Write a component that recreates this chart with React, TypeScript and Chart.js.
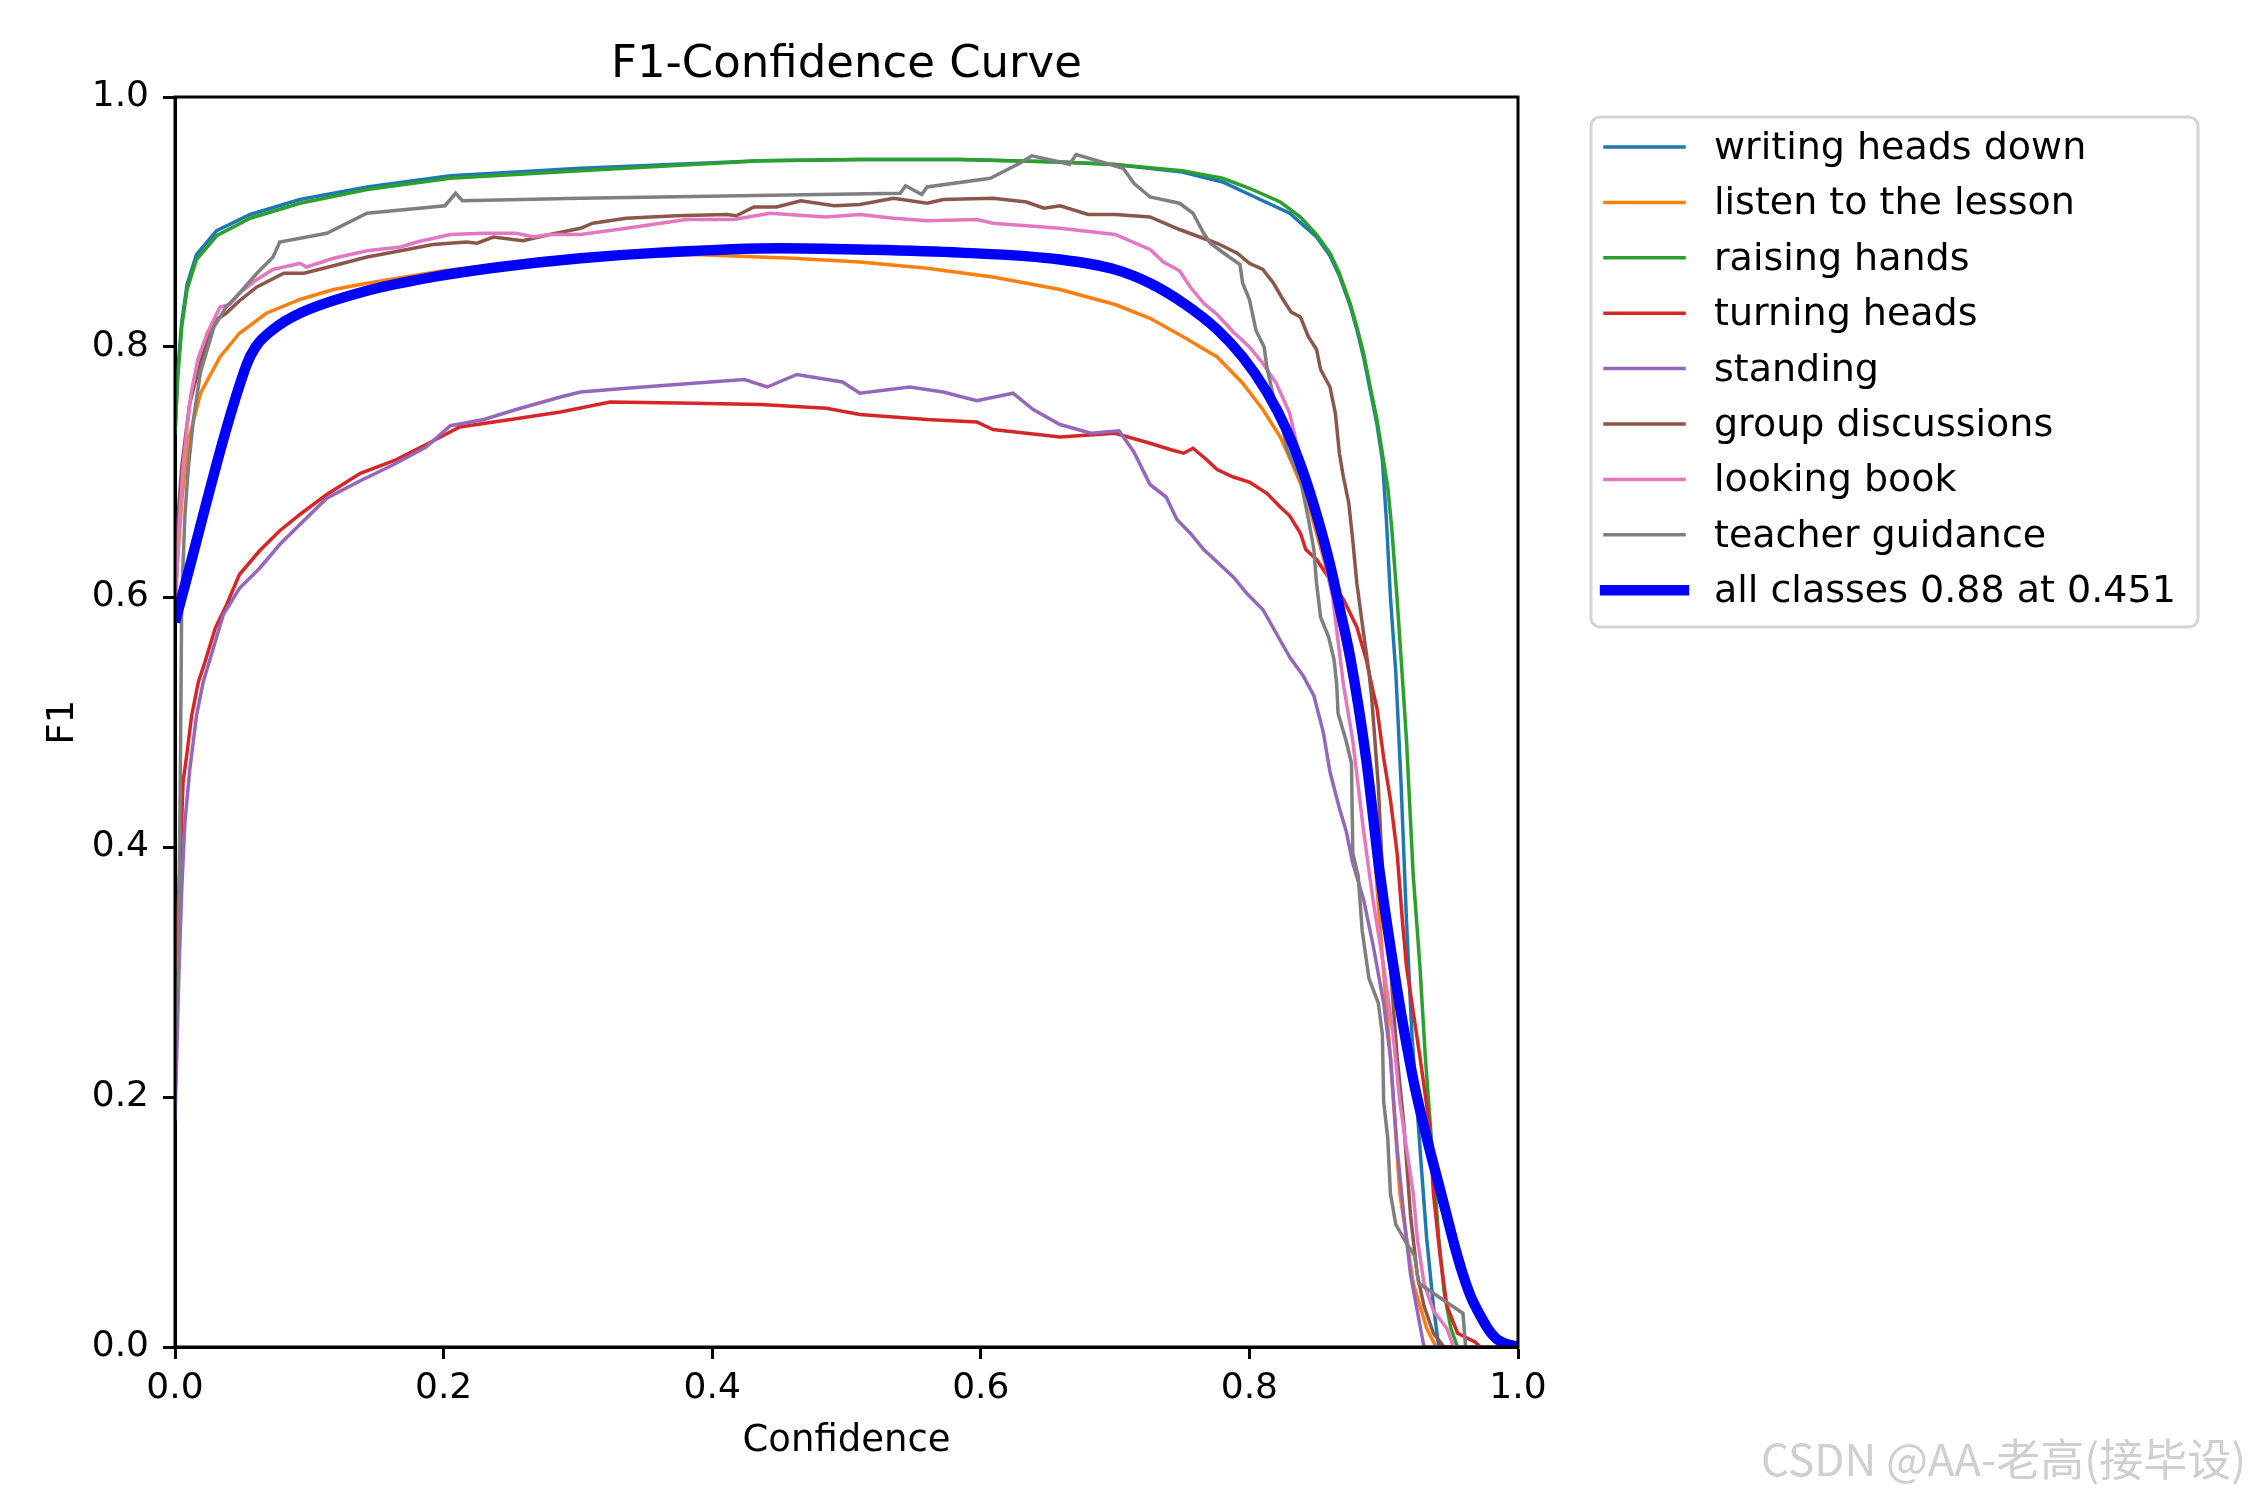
import { useEffect, useRef } from "react";
import { Chart, registerables, Plugin } from "chart.js";

Chart.register(...registerables);

type Pt = [number, number];

// [confidence, F1] pairs
const writingHeadsDown: Pt[] = [
  [0, 0.73], [0.002, 0.78], [0.005, 0.82], [0.009, 0.85], [0.016, 0.874], [0.031, 0.893],
  [0.056, 0.906], [0.093, 0.918], [0.143, 0.928], [0.205, 0.937], [0.302, 0.943], [0.436, 0.949],
  [0.51, 0.95], [0.585, 0.95], [0.659, 0.948], [0.7, 0.946], [0.75, 0.94], [0.78, 0.932],
  [0.8, 0.922], [0.83, 0.907], [0.85, 0.888], [0.86, 0.873], [0.867, 0.857], [0.875, 0.833],
  [0.88, 0.814], [0.885, 0.792], [0.89, 0.765], [0.895, 0.738], [0.899, 0.71], [0.902, 0.662],
  [0.905, 0.6], [0.909, 0.54], [0.913, 0.449], [0.917, 0.34], [0.921, 0.25], [0.927, 0.159],
  [0.932, 0.087], [0.937, 0.033], [0.941, 0], [1, 0],
];

const listenToTheLesson: Pt[] = [
  [0, 0.6], [0.005, 0.677], [0.01, 0.725], [0.019, 0.763], [0.0335, 0.792], [0.048, 0.811],
  [0.068, 0.827], [0.093, 0.838], [0.118, 0.846], [0.143, 0.851], [0.2, 0.861], [0.25, 0.867],
  [0.3, 0.871], [0.386, 0.874], [0.46, 0.871], [0.51, 0.868], [0.56, 0.863], [0.609, 0.856],
  [0.659, 0.846], [0.7, 0.834], [0.726, 0.823], [0.751, 0.808], [0.776, 0.792], [0.795, 0.771],
  [0.81, 0.75], [0.823, 0.728], [0.833, 0.704], [0.843, 0.678], [0.85, 0.651], [0.857, 0.624],
  [0.868, 0.575], [0.88, 0.51], [0.89, 0.438], [0.897, 0.34], [0.905, 0.232], [0.912, 0.123],
  [0.922, 0.051], [0.932, 0.015], [0.939, 0], [1, 0],
];

const raisingHands: Pt[] = [
  [0, 0.731], [0.002, 0.775], [0.005, 0.816], [0.009, 0.846], [0.016, 0.87], [0.031, 0.889],
  [0.056, 0.903], [0.093, 0.915], [0.143, 0.926], [0.205, 0.935], [0.302, 0.941], [0.436, 0.949],
  [0.51, 0.95], [0.585, 0.95], [0.659, 0.948], [0.7, 0.946], [0.75, 0.941], [0.78, 0.935],
  [0.8, 0.927], [0.823, 0.916], [0.838, 0.904], [0.85, 0.89], [0.86, 0.875], [0.867, 0.859],
  [0.875, 0.835], [0.88, 0.816], [0.885, 0.795], [0.89, 0.768], [0.895, 0.742], [0.899, 0.715],
  [0.903, 0.688], [0.906, 0.655], [0.91, 0.598], [0.915, 0.518], [0.917, 0.485], [0.922, 0.377],
  [0.927, 0.304], [0.931, 0.232], [0.936, 0.159], [0.941, 0.087], [0.945, 0.044], [0.95, 0.015],
  [0.955, 0], [1, 0],
];

const turningHeads: Pt[] = [
  [0, 0.3], [0.004, 0.393], [0.006, 0.452], [0.0087, 0.473], [0.0124, 0.505], [0.0174, 0.532],
  [0.0223, 0.548], [0.03, 0.575], [0.0385, 0.594], [0.048, 0.618], [0.063, 0.637], [0.078, 0.653],
  [0.093, 0.666], [0.113, 0.682], [0.138, 0.699], [0.163, 0.709], [0.187, 0.722], [0.212, 0.736],
  [0.25, 0.742], [0.287, 0.748], [0.324, 0.756], [0.386, 0.755], [0.436, 0.754], [0.485, 0.751],
  [0.51, 0.746], [0.56, 0.742], [0.597, 0.74], [0.609, 0.734], [0.659, 0.728], [0.7, 0.731],
  [0.726, 0.723], [0.741, 0.718], [0.751, 0.715], [0.758, 0.719], [0.768, 0.71], [0.776, 0.702],
  [0.788, 0.696], [0.8, 0.692], [0.813, 0.683], [0.823, 0.672], [0.83, 0.665], [0.838, 0.651],
  [0.842, 0.638], [0.85, 0.63], [0.86, 0.614], [0.87, 0.598], [0.88, 0.576], [0.887, 0.55],
  [0.892, 0.525], [0.895, 0.511], [0.9, 0.471], [0.905, 0.438], [0.91, 0.395], [0.914, 0.34],
  [0.917, 0.304], [0.922, 0.268], [0.927, 0.232], [0.934, 0.178], [0.937, 0.123], [0.942, 0.073],
  [0.947, 0.033], [0.955, 0.011], [0.968, 0.004], [0.972, 0], [1, 0],
];

const standing: Pt[] = [
  [0, 0.181], [0.003, 0.302], [0.005, 0.366], [0.0074, 0.42], [0.011, 0.462], [0.016, 0.505],
  [0.021, 0.532], [0.0285, 0.559], [0.036, 0.586], [0.048, 0.607], [0.063, 0.623], [0.078, 0.642],
  [0.093, 0.658], [0.113, 0.679], [0.138, 0.693], [0.163, 0.706], [0.187, 0.72], [0.205, 0.737],
  [0.23, 0.742], [0.254, 0.75], [0.287, 0.76], [0.302, 0.764], [0.336, 0.767], [0.386, 0.771],
  [0.424, 0.774], [0.441, 0.768], [0.463, 0.778], [0.497, 0.772], [0.51, 0.763], [0.547, 0.768],
  [0.572, 0.764], [0.597, 0.757], [0.624, 0.763], [0.639, 0.75], [0.659, 0.738], [0.682, 0.731],
  [0.703, 0.733], [0.714, 0.716], [0.726, 0.69], [0.738, 0.68], [0.746, 0.662], [0.756, 0.651],
  [0.766, 0.638], [0.776, 0.628], [0.788, 0.616], [0.798, 0.603], [0.81, 0.59], [0.82, 0.571],
  [0.83, 0.552], [0.84, 0.537], [0.848, 0.521], [0.855, 0.492], [0.86, 0.46], [0.867, 0.431],
  [0.872, 0.413], [0.877, 0.387], [0.885, 0.358], [0.892, 0.322], [0.9, 0.275], [0.905, 0.232],
  [0.91, 0.159], [0.915, 0.105], [0.92, 0.058], [0.925, 0.029], [0.93, 0], [1, 0],
];

const groupDiscussions: Pt[] = [
  [0, 0.62], [0.002, 0.66], [0.005, 0.704], [0.0087, 0.736], [0.011, 0.755], [0.016, 0.776],
  [0.024, 0.806], [0.031, 0.822], [0.038, 0.827], [0.048, 0.837], [0.061, 0.848], [0.081, 0.859],
  [0.096, 0.859], [0.118, 0.865], [0.143, 0.872], [0.168, 0.877], [0.192, 0.882], [0.217, 0.884],
  [0.225, 0.883], [0.237, 0.888], [0.259, 0.885], [0.279, 0.89], [0.302, 0.895], [0.311, 0.899],
  [0.336, 0.903], [0.373, 0.905], [0.411, 0.906], [0.418, 0.905], [0.431, 0.912], [0.448, 0.912],
  [0.466, 0.917], [0.491, 0.913], [0.51, 0.914], [0.535, 0.919], [0.56, 0.915], [0.572, 0.918],
  [0.609, 0.919], [0.634, 0.916], [0.647, 0.911], [0.659, 0.913], [0.68, 0.906], [0.7, 0.906],
  [0.726, 0.904], [0.748, 0.894], [0.763, 0.888], [0.776, 0.883], [0.791, 0.875], [0.8, 0.867],
  [0.81, 0.862], [0.818, 0.851], [0.825, 0.838], [0.831, 0.828], [0.838, 0.824], [0.844, 0.808],
  [0.85, 0.798], [0.853, 0.782], [0.86, 0.768], [0.864, 0.747], [0.867, 0.715], [0.87, 0.696],
  [0.874, 0.675], [0.877, 0.645], [0.88, 0.611], [0.885, 0.571], [0.889, 0.54], [0.891, 0.52],
  [0.896, 0.449], [0.9, 0.358], [0.905, 0.304], [0.91, 0.232], [0.915, 0.178], [0.92, 0.105],
  [0.925, 0.058], [0.93, 0.033], [0.937, 0.011], [0.945, 0], [1, 0],
];

const lookingBook: Pt[] = [
  [0, 0.58], [0.003, 0.656], [0.006, 0.704], [0.009, 0.736], [0.012, 0.763], [0.017, 0.79],
  [0.024, 0.811], [0.0335, 0.832], [0.041, 0.834], [0.048, 0.843], [0.061, 0.854], [0.073, 0.862],
  [0.093, 0.867], [0.098, 0.864], [0.118, 0.871], [0.143, 0.877], [0.168, 0.88], [0.18, 0.884],
  [0.205, 0.89], [0.23, 0.891], [0.254, 0.891], [0.267, 0.888], [0.279, 0.89], [0.302, 0.89],
  [0.336, 0.895], [0.381, 0.902], [0.416, 0.902], [0.443, 0.907], [0.485, 0.904], [0.51, 0.906],
  [0.535, 0.903], [0.56, 0.901], [0.597, 0.902], [0.609, 0.899], [0.634, 0.897], [0.659, 0.895],
  [0.7, 0.89], [0.726, 0.878], [0.736, 0.868], [0.748, 0.861], [0.756, 0.848], [0.766, 0.835],
  [0.776, 0.826], [0.788, 0.812], [0.8, 0.8], [0.81, 0.787], [0.82, 0.771], [0.83, 0.747],
  [0.84, 0.7], [0.85, 0.66], [0.862, 0.6], [0.87, 0.53], [0.877, 0.485], [0.885, 0.413],
  [0.892, 0.358], [0.9, 0.304], [0.907, 0.25], [0.912, 0.196], [0.917, 0.159], [0.922, 0.123],
  [0.925, 0.087], [0.93, 0.051], [0.937, 0.029], [0.947, 0.015], [0.952, 0], [1, 0],
];

const teacherGuidance: Pt[] = [
  [0, 0.25], [0.0025, 0.302], [0.004, 0.463], [0.005, 0.597], [0.0074, 0.666], [0.01, 0.704],
  [0.0136, 0.741], [0.019, 0.78], [0.029, 0.816], [0.038, 0.832], [0.048, 0.843], [0.061, 0.859],
  [0.073, 0.872], [0.078, 0.884], [0.113, 0.891], [0.143, 0.907], [0.201, 0.913], [0.209, 0.923],
  [0.214, 0.917], [0.302, 0.919], [0.54, 0.923], [0.544, 0.929], [0.556, 0.922], [0.56, 0.928],
  [0.607, 0.935], [0.629, 0.947], [0.638, 0.953], [0.659, 0.948], [0.666, 0.946], [0.671, 0.954],
  [0.706, 0.943], [0.714, 0.931], [0.726, 0.92], [0.748, 0.915], [0.758, 0.907], [0.766, 0.891],
  [0.771, 0.883], [0.781, 0.875], [0.793, 0.866], [0.795, 0.851], [0.8, 0.838], [0.805, 0.813],
  [0.811, 0.8], [0.813, 0.784], [0.819, 0.755], [0.825, 0.734], [0.828, 0.718], [0.838, 0.694],
  [0.844, 0.662], [0.848, 0.638], [0.85, 0.611], [0.853, 0.584], [0.859, 0.568], [0.863, 0.55],
  [0.865, 0.53], [0.866, 0.507], [0.872, 0.485], [0.876, 0.467], [0.877, 0.395], [0.881, 0.377],
  [0.884, 0.333], [0.889, 0.295], [0.896, 0.275], [0.899, 0.25], [0.9, 0.196], [0.903, 0.167],
  [0.905, 0.123], [0.909, 0.098], [0.917, 0.083], [0.923, 0.073], [0.926, 0.051], [0.959, 0.027],
  [0.961, 0], [1, 0],
];

const allClasses: Pt[] = [
  [0, 0.58], [0.053, 0.785], [0.06, 0.8], [0.073, 0.814], [0.093, 0.827], [0.143, 0.845],
  [0.192, 0.856], [0.242, 0.864], [0.302, 0.871], [0.361, 0.8755], [0.451, 0.879], [0.51, 0.878],
  [0.585, 0.8755], [0.659, 0.87], [0.7, 0.862], [0.726, 0.851], [0.751, 0.835], [0.776, 0.814],
  [0.795, 0.792], [0.813, 0.764], [0.828, 0.733], [0.84, 0.7], [0.85, 0.666], [0.86, 0.626],
  [0.867, 0.592], [0.875, 0.552], [0.887, 0.47], [0.897, 0.38], [0.91, 0.286], [0.922, 0.214],
  [0.934, 0.159], [0.941, 0.13], [0.947, 0.105], [0.953, 0.08], [0.959, 0.058], [0.965, 0.04],
  [0.972, 0.025], [0.978, 0.014], [0.984, 0.0065], [0.99, 0.003], [0.997, 0.001], [1, 0.0005],
];

const classNames = [
  "writing heads down",
  "listen to the lesson",
  "raising hands",
  "turning heads",
  "standing",
  "group discussions",
  "looking book",
  "teacher guidance",
];
const classCurves = [
  writingHeadsDown, listenToTheLesson, raisingHands, turningHeads,
  standing, groupDiscussions, lookingBook, teacherGuidance,
];
const classColors = [
  "#1f77b4", "#ff7f0e", "#2ca02c", "#d62728",
  "#9467bd", "#8c564b", "#e377c2", "#7f7f7f",
];
const allClassesLabel = "all classes 0.88 at 0.451";
const allClassesColor = "#0000ff";

const FONT = "'DejaVu Sans', Verdana, sans-serif";

// title, axis titles, top/right spines, legend and the watermark
const decorations: Plugin<"line"> = {
  id: "decorations",
  afterDatasetsDraw(chart) {
    const ctx = chart.ctx;
    const { left, right, top, bottom } = chart.chartArea;
    ctx.save();
    ctx.strokeStyle = "#000";
    ctx.lineWidth = 3;
    ctx.strokeRect(left, top, right - left, bottom - top);
    ctx.restore();
  },
  afterDraw(chart) {
    const ctx = chart.ctx;
    const { left, right, top, bottom } = chart.chartArea;
    ctx.save();
    ctx.fillStyle = "#000";
    ctx.textAlign = "center";
    ctx.textBaseline = "alphabetic";

    ctx.font = `45px ${FONT}`;
    ctx.fillText("F1-Confidence Curve", (left + right) / 2, 77);

    ctx.font = `37px ${FONT}`;
    ctx.fillText("Confidence", (left + right) / 2, 1451);

    ctx.save();
    ctx.translate(73, (top + bottom) / 2);
    ctx.rotate(-Math.PI / 2);
    ctx.fillText("F1", 0, 0);
    ctx.restore();

    // legend
    const bx = 1591, by = 117, bw = 607, bh = 510;
    ctx.beginPath();
    ctx.roundRect(bx, by, bw, bh, 9);
    ctx.fillStyle = "rgba(255,255,255,0.8)";
    ctx.fill();
    ctx.lineWidth = 3;
    ctx.strokeStyle = "#d4d4d4";
    ctx.stroke();

    ctx.font = `38px ${FONT}`;
    ctx.textAlign = "left";
    chart.data.datasets.forEach((ds, i) => {
      const y = 147 + i * 55.4;
      const w = (ds.borderWidth as number) || 3.5;
      ctx.beginPath();
      ctx.lineCap = "square";
      ctx.lineWidth = w;
      ctx.strokeStyle = ds.borderColor as string;
      ctx.moveTo(1605, y);
      ctx.lineTo(1684, y);
      ctx.stroke();
      ctx.fillStyle = "#000";
      ctx.fillText(ds.label as string, 1714, y + 12);
    });

    // watermark
    ctx.font = `44px 'Noto Sans CJK SC', sans-serif`;
    ctx.textAlign = "right";
    ctx.fillStyle = "#cfcfcf";
    ctx.fillText("CSDN @AA-老高(接毕设)", 2246, 1476);
    ctx.restore();
  },
};

export default function App() {
  const canvasRef = useRef<HTMLCanvasElement>(null);
  const chartRef = useRef<Chart<"line"> | null>(null);

  useEffect(() => {
    if (!canvasRef.current) return;
    if (chartRef.current) chartRef.current.destroy();

    const datasets = classCurves.map((curve, i) => ({
      label: classNames[i],
      data: curve.map(([x, y]) => ({ x, y })),
      borderColor: classColors[i],
      backgroundColor: classColors[i],
      borderWidth: 3.5,
      pointRadius: 0,
      tension: 0,
      order: 20 - i,
    }));
    datasets.push({
      label: allClassesLabel,
      data: allClasses.map(([x, y]) => ({ x, y })),
      borderColor: allClassesColor,
      backgroundColor: allClassesColor,
      borderWidth: 10.4,
      pointRadius: 0,
      tension: 0,
      order: 0,
      cubicInterpolationMode: "monotone",
    } as any);

    const tickFont = { family: FONT, size: 36 };
    const tickGrid = {
      display: true,
      drawOnChartArea: false,
      drawTicks: true,
      tickLength: 12,
      tickWidth: 3,
      tickColor: "#000",
    };

    chartRef.current = new Chart(canvasRef.current, {
      type: "line",
      data: { datasets },
      options: {
        animation: false,
        responsive: false,
        devicePixelRatio: 1,
        layout: { padding: { top: 97, right: 732, left: 0, bottom: 0 } },
        plugins: {
          legend: { display: false },
          title: { display: false },
          tooltip: { enabled: false },
        },
        scales: {
          x: {
            type: "linear",
            min: 0,
            max: 1,
            grid: tickGrid,
            border: { display: true, color: "#000", width: 3 },
            ticks: {
              stepSize: 0.2,
              color: "#000",
              font: tickFont,
              padding: 8,
              maxRotation: 0,
              autoSkip: false,
              callback: (v) => Number(v).toFixed(1),
            },
            afterFit: (s) => {
              s.height = 153;
            },
          },
          y: {
            type: "linear",
            min: 0,
            max: 1,
            grid: tickGrid,
            border: { display: true, color: "#000", width: 3 },
            ticks: {
              stepSize: 0.2,
              color: "#000",
              font: tickFont,
              padding: 14,
              autoSkip: false,
              callback: (v) => Number(v).toFixed(1),
            },
            afterFit: (s) => {
              s.width = 175;
            },
          },
        },
      },
      plugins: [decorations],
    });

    return () => {
      if (chartRef.current) {
        chartRef.current.destroy();
        chartRef.current = null;
      }
    };
  }, []);

  return (
    <div style={{ position: "absolute", left: 0, top: 0, width: 2250, height: 1500, background: "#fff" }}>
      <canvas ref={canvasRef} width={2250} height={1500} style={{ width: 2250, height: 1500 }} />
    </div>
  );
}
